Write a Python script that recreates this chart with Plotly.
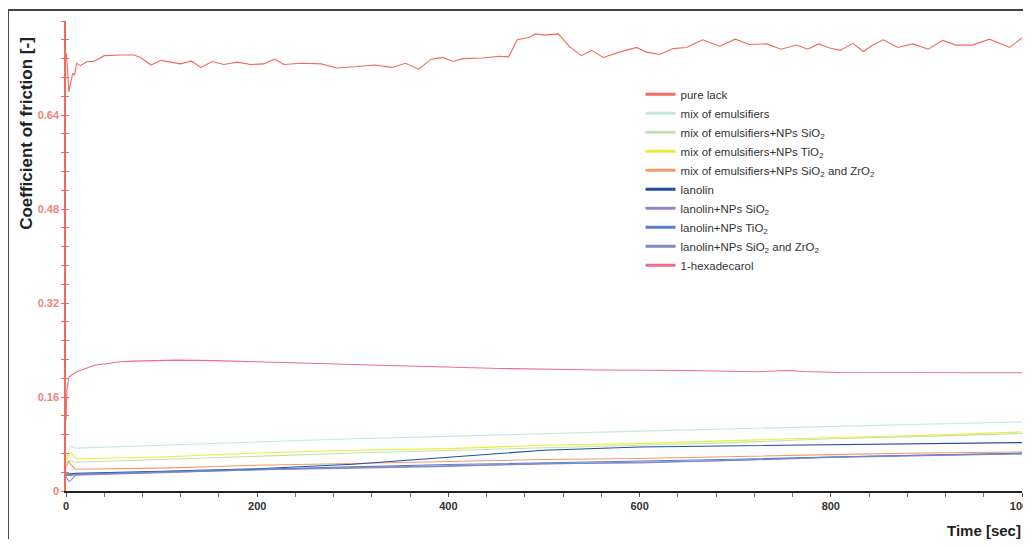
import plotly.graph_objects as go

# ---------------- data ----------------
pure_lack_t = [0, 0.5, 2, 3, 5, 7, 9, 11, 15, 22, 29, 40, 57, 71, 78, 89, 99, 120, 131, 141, 153,
               165, 179, 193, 207, 218, 228, 246, 267, 283, 302, 323, 341, 355, 369, 382, 394,
               405, 415, 436, 453, 463, 472, 484, 491, 501, 515, 527, 539, 550, 562, 579, 597,
               607, 621, 635, 649, 666, 684, 700, 715, 733, 748, 764, 776, 787, 799, 810, 823,
               834, 844, 855, 870, 886, 902, 917, 931, 948, 966, 976, 987, 1000]
pure_lack_v = [0.745, 0.742, 0.708, 0.679, 0.696, 0.711, 0.708, 0.728, 0.724, 0.731, 0.731, 0.741,
               0.742, 0.742, 0.738, 0.725, 0.733, 0.727, 0.732, 0.721, 0.731, 0.726, 0.730, 0.726,
               0.727, 0.735, 0.726, 0.728, 0.727, 0.720, 0.722, 0.725, 0.721, 0.728, 0.718, 0.735,
               0.738, 0.731, 0.736, 0.737, 0.740, 0.739, 0.768, 0.772, 0.778, 0.776, 0.778, 0.756,
               0.741, 0.750, 0.738, 0.747, 0.755, 0.747, 0.743, 0.753, 0.755, 0.768, 0.757, 0.769,
               0.760, 0.761, 0.752, 0.759, 0.752, 0.761, 0.754, 0.750, 0.762, 0.748, 0.759, 0.768,
               0.755, 0.761, 0.752, 0.767, 0.759, 0.759, 0.769, 0.762, 0.755, 0.771]

hexa_t = [0, 1, 3, 11, 30, 57, 70, 116, 155, 201, 230, 272, 308, 357, 409, 454, 512, 558, 648,
          722, 755, 771, 810, 914, 1000]
hexa_v = [0.12, 0.17, 0.194, 0.203, 0.214, 0.220, 0.221, 0.2227, 0.222, 0.220, 0.2175, 0.216,
          0.215, 0.2124, 0.2105, 0.2085, 0.2073, 0.206, 0.205, 0.203, 0.205, 0.2035, 0.2018,
          0.2018, 0.2013]

low_t = [0, 3, 5, 10, 100, 200, 300, 400, 500, 600, 700, 800, 900, 1000]
mix_emul = [0.052, 0.070, 0.0767, 0.073, 0.078, 0.0835, 0.089, 0.093, 0.0978, 0.102, 0.106, 0.110, 0.1136, 0.1176]
mix_sio2 = [0.048, 0.052, 0.051, 0.049, 0.0535, 0.059, 0.0648, 0.069, 0.074, 0.078, 0.0824, 0.089, 0.093, 0.0978]
mix_tio2 = [0.052, 0.062, 0.066, 0.055, 0.058, 0.0648, 0.0693, 0.0722, 0.078, 0.0807, 0.0864, 0.091, 0.095, 0.1005]
mix_sio2_zro2 = [0.041, 0.0506, 0.045, 0.037, 0.039, 0.0438, 0.0467, 0.0506, 0.0535, 0.0552, 0.059, 0.062, 0.0648, 0.0665]
lanolin = [0.0284, 0.029, 0.029, 0.030, 0.0336, 0.038, 0.0455, 0.058, 0.0693, 0.075, 0.0767, 0.079, 0.0807, 0.0824]
lanolin_sio2 = [0.025, 0.016, 0.018, 0.027, 0.031, 0.0364, 0.039, 0.042, 0.0467, 0.0477, 0.0523, 0.058, 0.061, 0.0637]
lanolin_tio2 = [0.029, 0.028, 0.028, 0.029, 0.033, 0.037, 0.041, 0.045, 0.048, 0.050, 0.054, 0.058, 0.061, 0.0645]
lanolin_sio2_zro2 = [0.027, 0.026, 0.026, 0.028, 0.032, 0.0355, 0.040, 0.043, 0.046, 0.049, 0.052, 0.057, 0.060, 0.063]

names = ["pure lack", "mix of emulsifiers", "mix of emulsifiers+NPs SiO<sub>2</sub>",
         "mix of emulsifiers+NPs TiO<sub>2</sub>",
         "mix of emulsifiers+NPs SiO<sub>2</sub> and ZrO<sub>2</sub>", "lanolin",
         "lanolin+NPs SiO<sub>2</sub>", "lanolin+NPs TiO<sub>2</sub>",
         "lanolin+NPs SiO<sub>2</sub> and ZrO<sub>2</sub>", "1-hexadecarol"]
colors = ["#f06a5a", "#c6e8de", "#bfe2b0", "#ecec3a", "#f5986c", "#1f4fa0",
          "#9b82c8", "#4f80d0", "#7c8ac4", "#f06a8e"]

y_ticks = [0, 0.16, 0.32, 0.48, 0.64]
y_tick_text = ["0", "0.16", "0.32", "0.48", "0.64"]
x_ticks = [0, 200, 400, 600, 800, 1000]

# ---------------- figure ----------------
series = [
    (pure_lack_t, pure_lack_v),
    (low_t, mix_emul),
    (low_t, mix_sio2),
    (low_t, mix_tio2),
    (low_t, mix_sio2_zro2),
    (low_t, lanolin),
    (low_t, lanolin_sio2),
    (low_t, lanolin_tio2),
    (low_t, lanolin_sio2_zro2),
    (hexa_t, hexa_v),
]

fig = go.Figure()
for (t, v), name, col in zip(series, names, colors):
    fig.add_trace(go.Scatter(x=t, y=v, mode="lines", name=name, legendgroup=name,
                             showlegend=False, line=dict(color=col, width=1.1)))
# legend entries with thicker swatches (same series, same colours)
for name, col in zip(names, colors):
    fig.add_trace(go.Scatter(x=[None], y=[None], mode="lines", name=name, legendgroup=name,
                             showlegend=True, hoverinfo="skip", line=dict(color=col, width=3)))

# invisible helper trace so the overlaid axis (inside ticks) is drawn
fig.add_trace(go.Scatter(x=[0], y=[0], yaxis="y2", mode="lines", showlegend=False,
                         hoverinfo="skip", line=dict(width=0, color="rgba(0,0,0,0)")))

RED = "#f06a5a"
fig.update_layout(
    width=1015, height=531,
    margin=dict(l=58, r=1, t=13, b=48, autoexpand=False),
    paper_bgcolor="white", plot_bgcolor="white",
    font=dict(family="Liberation Sans, Arial, sans-serif", color="#333"),
    showlegend=True,
    legend=dict(x=0.601, y=0.875, xanchor="left", yanchor="top",
                bgcolor="rgba(0,0,0,0)", font=dict(size=11.5, color="#333"),
                itemwidth=30, tracegroupgap=0),
    xaxis=dict(range=[0, 1000], tickvals=x_ticks, showgrid=False, zeroline=False,
               automargin=False,
               showline=True, linecolor="#222", linewidth=1.5,
               ticks="outside", ticklen=4, tickcolor="#555",
               minor=dict(dtick=40, ticks="outside", ticklen=4, tickcolor="#777"),
               ticklabeloverflow="allow",
               tickfont=dict(size=11, color="#333", family="Liberation Sans, Arial", weight="bold"),
               ),
    yaxis=dict(range=[0, 0.8], tickvals=y_ticks, ticktext=y_tick_text,
               showgrid=False, zeroline=False, automargin=False,
               showline=True, linecolor=RED, linewidth=1.5,
               ticks="outside", ticklen=3, tickcolor=RED,
               minor=dict(dtick=0.032, ticks="outside", ticklen=3, tickcolor=RED),
               tickfont=dict(size=11, color="#f28276", family="Liberation Sans, Arial", weight="bold")),
    yaxis2=dict(range=[0, 0.8], overlaying="y", side="left", tickvals=y_ticks,
                showticklabels=False, showgrid=False, zeroline=False, showline=False,
                automargin=False,
                ticks="inside", ticklen=3, tickcolor=RED,
                minor=dict(dtick=0.032, ticks="inside", ticklen=3, tickcolor=RED)),
)

fig.add_annotation(text="<b>Coefficient of friction [-]</b>", xref="paper", yref="paper",
                   x=-0.0408, y=0.762, textangle=-90, showarrow=False,
                   xanchor="center", yanchor="middle",
                   font=dict(size=17, color="#222", family="Liberation Sans, Arial"))
fig.add_annotation(text="<b>Time [sec]</b>", xref="paper", yref="paper",
                   x=0.960, y=-0.0836, showarrow=False, xanchor="center", yanchor="middle",
                   font=dict(size=15, color="#222", family="Liberation Sans, Arial"))

# outer frame
fig.add_shape(type="rect", xref="paper", yref="paper",
              x0=-0.0607, y0=-0.3, x1=1.1, y1=1.0234,
              line=dict(color="#444", width=2), fillcolor="rgba(0,0,0,0)", layer="below")

fig.write_html("out.html")
